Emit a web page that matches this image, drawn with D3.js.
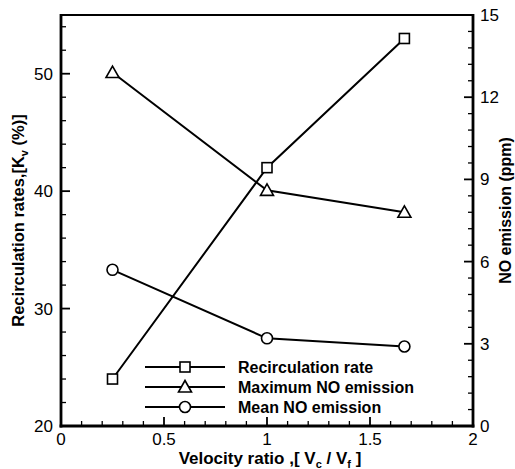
<!DOCTYPE html>
<html>
<head>
<meta charset="utf-8">
<script src="https://cdn.jsdelivr.net/npm/d3@7"></script>
<style>
  html, body { margin: 0; padding: 0; background: #fff; overflow: hidden; }
  svg { display: block; font-family: "Liberation Sans", Arial, sans-serif; }
</style>
</head>
<body>
<svg id="chart" width="515" height="469"></svg>
<script>
// Velocity ratio Vc/Vf at each measured condition
const velocityRatio = [0.25, 1.0, 1.667];
// Recirculation rate Kv (%) — left axis
const recirculation = [24, 42, 53];
// NO emission (ppm) — right axis
const maxNO = [12.9, 8.6, 7.8];
const meanNO = [5.7, 3.2, 2.9];

const xTicks = [0, 0.5, 1, 1.5, 2];
const leftTicks = [20, 30, 40, 50];
const rightTicks = [0, 3, 6, 9, 12, 15];
const legendLabels = ["Recirculation rate", "Maximum NO emission", "Mean NO emission"];

const svg = d3.select("#chart");
const m = { left: 61, right: 473, top: 15, bottom: 426 };

const x = d3.scaleLinear().domain([0, 2]).range([m.left, m.right]);
const yL = d3.scaleLinear().domain([20, 55]).range([m.bottom, m.top]);
const yR = d3.scaleLinear().domain([0, 15]).range([m.bottom, m.top]);

// frame
svg.append("line").attr("x1", m.left).attr("x2", m.right).attr("y1", m.top).attr("y2", m.top)
  .attr("stroke", "#000").attr("stroke-width", 2);

// x axis ticks (inward)
const xMinor = d3.range(0, 2.0001, 0.1).filter(v => !xTicks.some(t => Math.abs(t - v) < 1e-6));
const gx = svg.append("g");
gx.selectAll(".mn").data(xMinor).join("line")
  .attr("x1", d => x(d)).attr("x2", d => x(d)).attr("y1", m.bottom).attr("y2", m.bottom - 5)
  .attr("stroke", "#000").attr("stroke-width", 1.3);
gx.selectAll(".mj").data(xTicks).join("line")
  .attr("x1", d => x(d)).attr("x2", d => x(d)).attr("y1", m.bottom).attr("y2", m.bottom - 9)
  .attr("stroke", "#000").attr("stroke-width", 1.8);
gx.selectAll("text").data(xTicks).join("text")
  .attr("x", d => x(d)).attr("y", m.bottom + 19)
  .attr("text-anchor", "middle").attr("font-size", 17).text(d => d);

// left axis
const lMinor = d3.range(20, 55.0001, 2).filter(v => v % 10 !== 0);
const gl = svg.append("g");
gl.selectAll(".mn").data(lMinor).join("line")
  .attr("x1", m.left).attr("x2", m.left + 5).attr("y1", d => yL(d)).attr("y2", d => yL(d))
  .attr("stroke", "#000").attr("stroke-width", 1.3);
gl.selectAll(".mj").data(leftTicks).join("line")
  .attr("x1", m.left).attr("x2", m.left + 9).attr("y1", d => yL(d)).attr("y2", d => yL(d))
  .attr("stroke", "#000").attr("stroke-width", 1.8);
gl.selectAll("text").data(leftTicks).join("text")
  .attr("x", m.left - 8).attr("y", d => yL(d) + 6)
  .attr("text-anchor", "end").attr("font-size", 17).text(d => d);

// right axis
const rMinor = d3.range(0, 15.0001, 0.6).filter(v => !rightTicks.some(t => Math.abs(t - v) < 1e-6));
const gr = svg.append("g");
gr.selectAll(".mn").data(rMinor).join("line")
  .attr("x1", m.right).attr("x2", m.right - 5).attr("y1", d => yR(d)).attr("y2", d => yR(d))
  .attr("stroke", "#000").attr("stroke-width", 1.3);
gr.selectAll(".mj").data(rightTicks).join("line")
  .attr("x1", m.right).attr("x2", m.right - 9).attr("y1", d => yR(d)).attr("y2", d => yR(d))
  .attr("stroke", "#000").attr("stroke-width", 1.8);
gr.selectAll("text").data(rightTicks).join("text")
  .attr("x", m.right + 7).attr("y", d => yR(d) + 6)
  .attr("text-anchor", "start").attr("font-size", 17).text(d => d);

// axis lines
svg.append("line").attr("x1", m.left).attr("x2", m.left).attr("y1", m.top - 1).attr("y2", m.bottom + 1.5)
  .attr("stroke", "#000").attr("stroke-width", 2.8);
svg.append("line").attr("x1", m.right).attr("x2", m.right).attr("y1", m.top - 1).attr("y2", m.bottom + 1.5)
  .attr("stroke", "#000").attr("stroke-width", 2.8);
svg.append("line").attr("x1", m.left - 1.4).attr("x2", m.right + 1.4).attr("y1", m.bottom).attr("y2", m.bottom)
  .attr("stroke", "#000").attr("stroke-width", 2.8);

// axis titles
const lt = svg.append("text")
  .attr("transform", `translate(24,${(m.top + m.bottom) / 2}) rotate(-90)`)
  .attr("text-anchor", "middle").attr("font-size", 16.5).attr("font-weight", "bold");
lt.append("tspan").text("Recirculation rates,[K");
lt.append("tspan").attr("font-size", 11).attr("dy", 4).text("v");
lt.append("tspan").attr("dy", -4).text(" (%)]");

svg.append("text")
  .attr("transform", `translate(511,${(m.top + m.bottom) / 2 - 10}) rotate(-90)`)
  .attr("text-anchor", "middle").attr("font-size", 16).attr("font-weight", "bold")
  .text("NO emission (ppm)");

const xt = svg.append("text")
  .attr("x", 270).attr("y", 464)
  .attr("text-anchor", "middle").attr("font-size", 17).attr("font-weight", "bold");
xt.append("tspan").text("Velocity ratio ,[ V");
xt.append("tspan").attr("font-size", 11).attr("dy", 4).text("c");
xt.append("tspan").attr("dy", -4).text(" / V");
xt.append("tspan").attr("font-size", 11).attr("dy", 4).text("f");
xt.append("tspan").attr("dy", -4).text(" ]");

// series
const series = [
  { vals: recirculation, y: yL, marker: "square" },
  { vals: maxNO, y: yR, marker: "triangle" },
  { vals: meanNO, y: yR, marker: "circle" }
];

function drawMarker(g, type, cx, cy) {
  if (type === "square") {
    g.append("rect").attr("x", cx - 5).attr("y", cy - 5).attr("width", 10).attr("height", 10)
      .attr("fill", "#fff").attr("stroke", "#000").attr("stroke-width", 1.6);
  } else if (type === "triangle") {
    g.append("path").attr("d", `M${cx},${cy - 6.5}L${cx + 6.5},${cy + 5}L${cx - 6.5},${cy + 5}Z`)
      .attr("fill", "#fff").attr("stroke", "#000").attr("stroke-width", 1.6);
  } else {
    g.append("circle").attr("cx", cx).attr("cy", cy).attr("r", 5.5)
      .attr("fill", "#fff").attr("stroke", "#000").attr("stroke-width", 1.6);
  }
}

series.forEach(s => {
  const pts = velocityRatio.map((v, i) => [x(v), s.y(s.vals[i])]);
  svg.append("path").attr("d", d3.line()(pts)).attr("fill", "none")
    .attr("stroke", "#000").attr("stroke-width", 2);
});
series.forEach(s => {
  const g = svg.append("g");
  velocityRatio.forEach((v, i) => drawMarker(g, s.marker, x(v), s.y(s.vals[i])));
});

// legend
const legY = [367, 387, 407];
series.forEach((s, i) => {
  const g = svg.append("g");
  g.append("line").attr("x1", 145).attr("x2", 225).attr("y1", legY[i]).attr("y2", legY[i])
    .attr("stroke", "#000").attr("stroke-width", 2);
  drawMarker(g, s.marker, 185, legY[i]);
  g.append("text").attr("x", 238).attr("y", legY[i] + 6)
    .attr("font-size", 16).attr("font-weight", "bold").text(legendLabels[i]);
});
</script>
</body>
</html>
